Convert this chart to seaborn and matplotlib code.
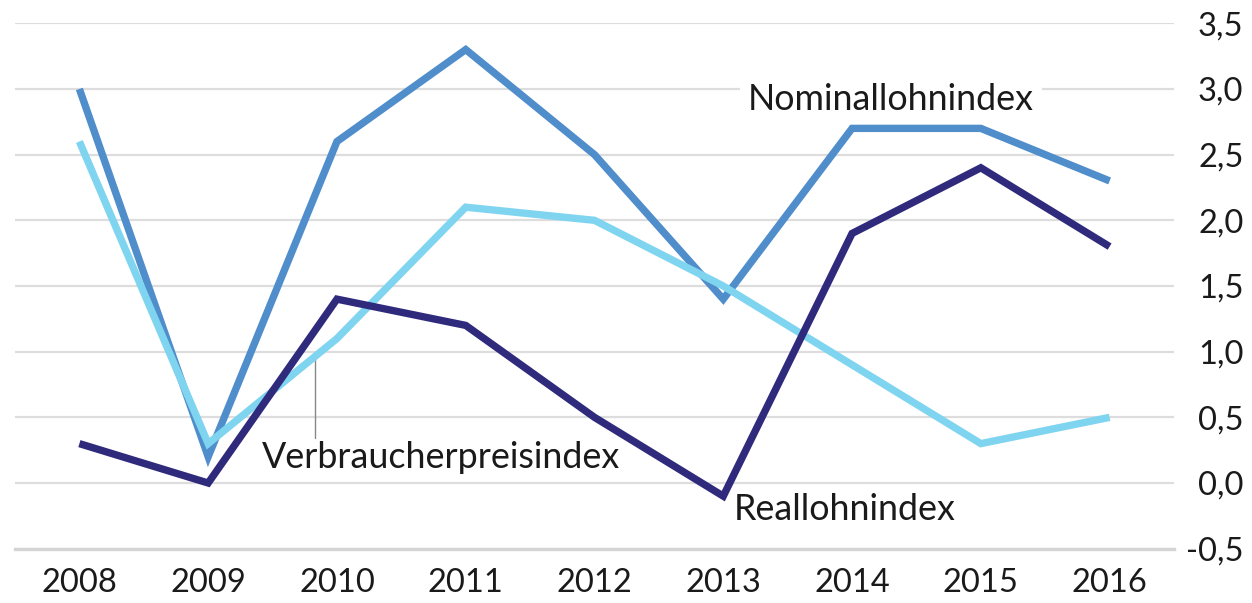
import numpy as np
import pandas as pd
import matplotlib
matplotlib.use("Agg")
import matplotlib.pyplot as plt
import seaborn as sns

# ---- data ----
years = [2008, 2009, 2010, 2011, 2012, 2013, 2014, 2015, 2016]
nominal = [3.0, 0.2, 2.6, 3.3, 2.5, 1.4, 2.7, 2.7, 2.3]
verbraucher = [2.6, 0.3, 1.1, 2.1, 2.0, 1.5, 0.9, 0.3, 0.5]
real = [0.3, 0.0, 1.4, 1.2, 0.5, -0.1, 1.9, 2.4, 1.8]
series_names = ["Nominallohnindex", "Verbraucherpreisindex", "Reallohnindex"]
y_ticks = [-0.5, 0.0, 0.5, 1.0, 1.5, 2.0, 2.5, 3.0, 3.5]
y_ticklabels = ["-0,5", "0,0", "0,5", "1,0", "1,5", "2,0", "2,5", "3,0", "3,5"]
x_ticklabels = [str(y) for y in years]

colors = {
    "Nominallohnindex": "#4f8dcb",
    "Verbraucherpreisindex": "#7fd4f0",
    "Reallohnindex": "#2f2a7b",
}

df = pd.DataFrame({
    "Jahr": years * 3,
    "Wert": nominal + verbraucher + real,
    "Serie": [series_names[0]] * len(years) + [series_names[1]] * len(years) + [series_names[2]] * len(years),
})

sns.set_theme(style="white")
plt.rcParams["font.family"] = ["Lato", "DejaVu Sans"]
text_color = "#1a1a1a"

fig = plt.figure(figsize=(12.52, 6.03), dpi=100)
ax = fig.add_axes([0.01198, 0.09005, 0.92572, 0.87131])

sns.lineplot(data=df, x="Jahr", y="Wert", hue="Serie", hue_order=series_names,
             palette=colors, linewidth=5.3, legend=False, sort=False, ax=ax,
             estimator=None)
for ln in ax.lines:
    ln.set_solid_joinstyle("miter")
    ln.set_solid_capstyle("butt")
    ln.set_zorder(3)

ax.set_xlim(years[0] - 0.5, years[-1] + 0.5)
ax.set_ylim(-0.5, 3.5)

# y axis on right, labels right-aligned
ax.set_yticks(y_ticks)
ax.set_yticklabels(y_ticklabels)
ax.yaxis.tick_right()
ax.tick_params(axis="y", which="both", length=0, pad=50, labelsize=23.5, labelcolor=text_color)
for lbl in ax.get_yticklabels():
    lbl.set_horizontalalignment("right")
ax.grid(axis="y", color="#dddddd", linewidth=1.6, zorder=0)
ax.set_axisbelow(True)

# x axis
ax.set_xticks(years)
ax.set_xticklabels(x_ticklabels)
ax.set_xticks([y - 0.5 for y in years] + [years[-1] + 0.5], minor=True)
ax.tick_params(axis="x", which="major", length=0, pad=14, labelsize=23.5, labelcolor=text_color)
ax.tick_params(axis="x", which="minor", length=14, width=1.3, color="#cfcfcf", direction="out")
ax.set_xlabel("")
ax.set_ylabel("")

for s in ["top", "left", "right"]:
    ax.spines[s].set_visible(False)
ax.spines["bottom"].set_color("#d4d4d4")
ax.spines["bottom"].set_linewidth(2.4)

# annotations
ax.text(2013.19, 2.84, "Nominallohnindex", fontsize=25.8, color=text_color,
        ha="left", va="baseline", zorder=4,
        bbox=dict(facecolor="white", edgecolor="none", pad=6))
ax.text(2009.42, 0.114, "Verbraucherpreisindex", fontsize=25.8, color=text_color,
        ha="left", va="baseline", zorder=4)
ax.text(2013.08, -0.28, "Reallohnindex", fontsize=25.8, color=text_color,
        ha="left", va="baseline", zorder=4)
ax.plot([2009.83, 2009.83], [0.343, 0.952], color="#888888", linewidth=1.0, zorder=2)

fig.savefig("out.png", dpi=100)
